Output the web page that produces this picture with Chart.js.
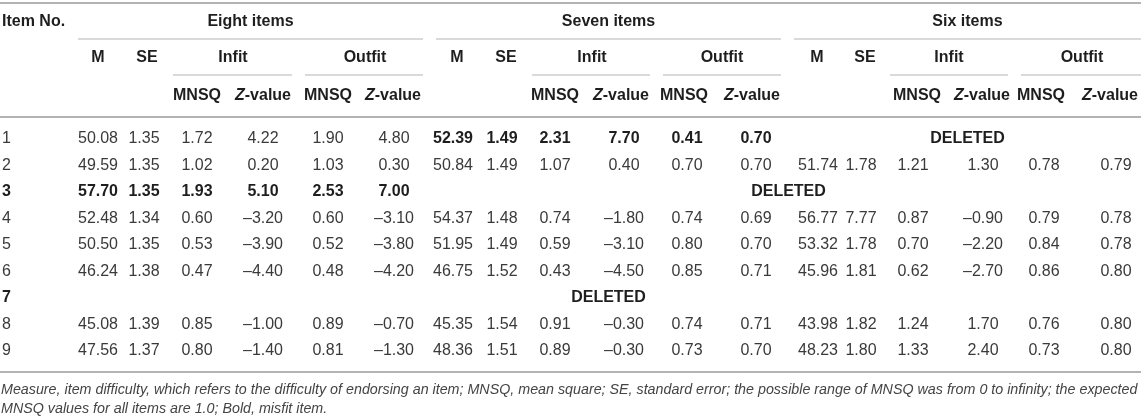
<!DOCTYPE html>
<html>
<head>
<meta charset="utf-8">
<script src="https://cdn.jsdelivr.net/npm/chart.js@4"></script>
<style>
  html, body { margin: 0; padding: 0; background: #fff; }
  #wrap { width: 1141px; height: 418px; position: relative; }
</style>
</head>
<body>
<div id="wrap"><canvas id="table-chart"></canvas></div>
<script>
// table values (null = blank / deleted)
const itemNos = ['1', '2', '3', '4', '5', '6', '7', '8', '9'];
const groupTitles = ['Eight items', 'Seven items', 'Six items'];
const subHeads = ['M', 'SE', 'Infit', 'Outfit'];

const eightM = [50.08, 49.59, 57.70, 52.48, 50.50, 46.24, null, 45.08, 47.56];
const eightSE = [1.35, 1.35, 1.35, 1.34, 1.35, 1.38, null, 1.39, 1.37];
const eightInfitMnsq = [1.72, 1.02, 1.93, 0.60, 0.53, 0.47, null, 0.85, 0.80];
const eightInfitZ = [4.22, 0.20, 5.10, -3.20, -3.90, -4.40, null, -1.00, -1.40];
const eightOutfitMnsq = [1.90, 1.03, 2.53, 0.60, 0.52, 0.48, null, 0.89, 0.81];
const eightOutfitZ = [4.80, 0.30, 7.00, -3.10, -3.80, -4.20, null, -0.70, -1.30];

const sevenM = [52.39, 50.84, null, 54.37, 51.95, 46.75, null, 45.35, 48.36];
const sevenSE = [1.49, 1.49, null, 1.48, 1.49, 1.52, null, 1.54, 1.51];
const sevenInfitMnsq = [2.31, 1.07, null, 0.74, 0.59, 0.43, null, 0.91, 0.89];
const sevenInfitZ = [7.70, 0.40, null, -1.80, -3.10, -4.50, null, -0.30, -0.30];
const sevenOutfitMnsq = [0.41, 0.70, null, 0.74, 0.80, 0.85, null, 0.74, 0.73];
const sevenOutfitZ = [0.70, 0.70, null, 0.69, 0.70, 0.71, null, 0.71, 0.70];

const sixM = [null, 51.74, null, 56.77, 53.32, 45.96, null, 43.98, 48.23];
const sixSE = [null, 1.78, null, 7.77, 1.78, 1.81, null, 1.82, 1.80];
const sixInfitMnsq = [null, 1.21, null, 0.87, 0.70, 0.62, null, 1.24, 1.33];
const sixInfitZ = [null, 1.30, null, -0.90, -2.20, -2.70, null, 1.70, 2.40];
const sixOutfitMnsq = [null, 0.78, null, 0.79, 0.84, 0.86, null, 0.76, 0.73];
const sixOutfitZ = [null, 0.79, null, 0.78, 0.78, 0.80, null, 0.80, 0.80];

// [row, first group, last group] of the DELETED spans
const deletedSpans = [[0, 2, 2], [2, 1, 2], [6, 1, 1]];
// bold (misfit) cells: [row, group]
const misfitCells = [[2, 0], [0, 1]];
const boldItemNos = ['3', '7'];

const footnote = [
  'Measure, item difficulty, which refers to the difficulty of endorsing an item; MNSQ, mean square; SE, standard error; the possible range of MNSQ was from 0 to infinity; the expected',
  'MNSQ values for all items are 1.0; Bold, misfit item.'
];

const groups = [
  [eightM, eightSE, eightInfitMnsq, eightInfitZ, eightOutfitMnsq, eightOutfitZ],
  [sevenM, sevenSE, sevenInfitMnsq, sevenInfitZ, sevenOutfitMnsq, sevenOutfitZ],
  [sixM, sixSE, sixInfitMnsq, sixInfitZ, sixOutfitMnsq, sixOutfitZ]
];

// layout (in the scales' units, which are the page pixels here)
const groupSpan = [[78, 423], [436, 781], [794, 1141]];
const fitSpan = [
  [[173, 292], [305, 423]],
  [[532, 650], [663, 781]],
  [[890, 1008], [1021, 1141]]
];
const headX = [
  [98, 147, 197, 263, 328, 393],
  [457, 506, 555, 621, 684, 752],
  [817, 865, 917, 982, 1041, 1110]
];
const cellX = [
  [98, 144, 197, 263, 328, 394],
  [453, 502, 555, 624, 687, 756],
  [818, 861, 913, 983, 1044, 1116]
];
const fitX = [[233, 365], [592, 722], [949, 1082]];
const headY = [22, 58, 96];
const firstRowY = 139;
const rowStep = 26.45;

const FONT = '"Liberation Sans", Arial, Helvetica, sans-serif';
const TEXT = '#3a3a3a';
const BOLD = '#1e1e1e';
const RULE = '#b4b4b4';

const fmt = v => (v < 0 ? '\u2013' + Math.abs(v).toFixed(2) : v.toFixed(2));

const tablePlugin = {
  id: 'tableDraw',
  afterDraw(chart) {
    const ctx = chart.ctx;
    const xs = chart.scales.x;
    const ys = chart.scales.y;
    const X = v => xs.getPixelForValue(v);
    const Y = v => ys.getPixelForValue(v);

    const rule = (x0, x1, y, w) => {
      ctx.strokeStyle = RULE;
      ctx.lineWidth = w;
      ctx.beginPath();
      ctx.moveTo(X(x0), Y(y));
      ctx.lineTo(X(x1), Y(y));
      ctx.stroke();
    };
    const text = (s, x, y, weight, color, align) => {
      ctx.font = weight + ' 16px ' + FONT;
      ctx.fillStyle = color;
      ctx.textAlign = align || 'center';
      ctx.textBaseline = 'middle';
      ctx.fillText(s, X(x), Y(y));
    };

    ctx.save();

    // rules
    rule(0, 1141, 3, 2);
    rule(0, 1141, 117, 2);
    rule(0, 1141, 372, 2);
    groupSpan.forEach(s => rule(s[0], s[1], 39, 1));
    fitSpan.forEach(g => g.forEach(s => rule(s[0], s[1], 75, 1)));

    // headers
    text('Item No.', 2, headY[0], 'bold', BOLD, 'left');
    groupTitles.forEach((t, g) => {
      text(t, (groupSpan[g][0] + groupSpan[g][1]) / 2, headY[0], 'bold', BOLD);
      text(subHeads[0], headX[g][0], headY[1], 'bold', BOLD);
      text(subHeads[1], headX[g][1], headY[1], 'bold', BOLD);
      text(subHeads[2], fitX[g][0], headY[1], 'bold', BOLD);
      text(subHeads[3], fitX[g][1], headY[1], 'bold', BOLD);
      [2, 4].forEach(c => text('MNSQ', headX[g][c], headY[2], 'bold', BOLD));
      [3, 5].forEach(c => {
        ctx.font = 'italic bold 16px ' + FONT;
        const wz = ctx.measureText('Z').width;
        ctx.font = 'bold 16px ' + FONT;
        const wr = ctx.measureText('-value').width;
        const left = headX[g][c] - (wz + wr) / 2;
        text('Z', left, headY[2], 'italic bold', BOLD, 'left');
        text('-value', left + wz, headY[2], 'bold', BOLD, 'left');
      });
    });

    // body
    itemNos.forEach((no, r) => {
      const y = firstRowY + r * rowStep;
      const b = boldItemNos.includes(no);
      text(no, 2, y, b ? 'bold' : 'normal', b ? BOLD : TEXT, 'left');
      groups.forEach((cols, g) => {
        const bold = misfitCells.some(m => m[0] === r && m[1] === g);
        cols.forEach((col, c) => {
          if (col[r] === null) return;
          text(fmt(col[r]), cellX[g][c], y, bold ? 'bold' : 'normal', bold ? BOLD : TEXT);
        });
      });
    });
    deletedSpans.forEach(([r, g0, g1]) => {
      const cx = (groupSpan[g0][0] + groupSpan[g1][1]) / 2;
      text('DELETED', cx, firstRowY + r * rowStep, 'bold', BOLD);
    });

    // footnote, stretched to the table width on the first line
    ctx.font = 'italic 14px ' + FONT;
    const size = 14 * 1137 / ctx.measureText(footnote[0]).width;
    ctx.font = 'italic ' + size.toFixed(2) + 'px ' + FONT;
    ctx.fillStyle = '#444';
    ctx.textAlign = 'left';
    ctx.textBaseline = 'middle';
    ctx.fillText(footnote[0], X(1), Y(390));
    ctx.fillText(footnote[1], X(1), Y(409));

    ctx.restore();
  }
};

new Chart(document.getElementById('table-chart'), {
  type: 'scatter',
  data: { datasets: [{ data: [], pointRadius: 0 }] },
  options: {
    responsive: true,
    maintainAspectRatio: false,
    animation: false,
    devicePixelRatio: 1,
    layout: { padding: 0 },
    events: [],
    plugins: { legend: { display: false }, tooltip: { enabled: false } },
    scales: {
      x: { type: 'linear', min: 0, max: 1141, display: false },
      y: { type: 'linear', min: 0, max: 418, reverse: true, display: false }
    }
  },
  plugins: [tablePlugin]
});
</script>
</body>
</html>
